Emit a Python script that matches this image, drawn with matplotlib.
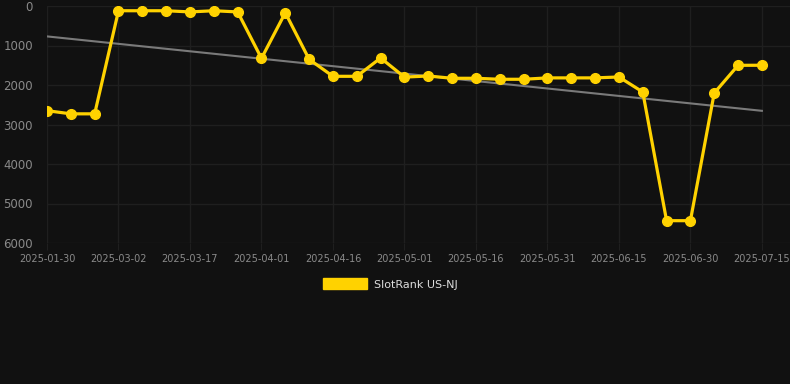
import numpy as np
import matplotlib
matplotlib.use('Agg')
import matplotlib.pyplot as plt
from matplotlib.patches import Patch

dates = ['2025-01-30', '2025-02-04', '2025-02-09', '2025-03-02', '2025-03-07',
         '2025-03-12', '2025-03-17', '2025-03-22', '2025-03-27', '2025-04-01',
         '2025-04-06', '2025-04-11', '2025-04-16', '2025-04-21', '2025-04-26',
         '2025-05-01', '2025-05-06', '2025-05-11', '2025-05-16', '2025-05-21',
         '2025-05-26', '2025-05-31', '2025-06-05', '2025-06-10', '2025-06-15',
         '2025-06-20', '2025-06-25', '2025-06-30', '2025-07-05', '2025-07-10',
         '2025-07-15']
rank = [2650, 2730, 2730, 120, 120, 120, 150, 120, 150, 1325,
        170, 1350, 1780, 1780, 1316, 1800, 1772, 1830, 1830, 1855,
        1855, 1820, 1820, 1820, 1797, 2177, 5435, 5435, 2203, 1502,
        1500]
series_name = 'SlotRank US-NJ'

bg = '#111111'
grid_c = '#1f1f1f'
tick_c = '#8a8a8a'
gold = '#FFD200'

fig = plt.figure(figsize=(7.9, 3.84), dpi=100, facecolor=bg)
ax = fig.add_axes([47 / 790, 1 - 243 / 384, 743 / 790, 237 / 384])
ax.set_facecolor(bg)

x = np.arange(len(rank))
# linear trend over the series
k, b = np.polyfit(x, rank, 1)
ax.plot(x, k * x + b, color='#7a7a7a', lw=1.5, zorder=2)
ax.plot(x, rank, color=gold, lw=2.3, marker='o', ms=7, zorder=3)

ax.set_xlim(0, (790 - 47) / 23.83)
ax.set_ylim(6000, 0)
ax.set_yticks(range(0, 6001, 1000))
ax.set_xticks(x[::3])
ax.set_xticklabels(dates[::3])

ax.grid(True, color=grid_c, lw=1)
for s in ax.spines.values():
    s.set_visible(False)
ax.tick_params(axis='y', length=0, pad=10, labelsize=8.5, labelcolor=tick_c)
ax.tick_params(axis='x', length=5, color=grid_c, pad=3, labelsize=7, labelcolor=tick_c)

fig.legend(handles=[Patch(facecolor=gold, edgecolor=gold, label=series_name)],
           loc='center', bbox_to_anchor=(390 / 790, 1 - 284 / 384), frameon=False,
           fontsize=8, labelcolor='#dddddd', handlelength=4, handleheight=1.1,
           handletextpad=0.6)

fig.savefig('out.png', dpi=100, facecolor=bg)
